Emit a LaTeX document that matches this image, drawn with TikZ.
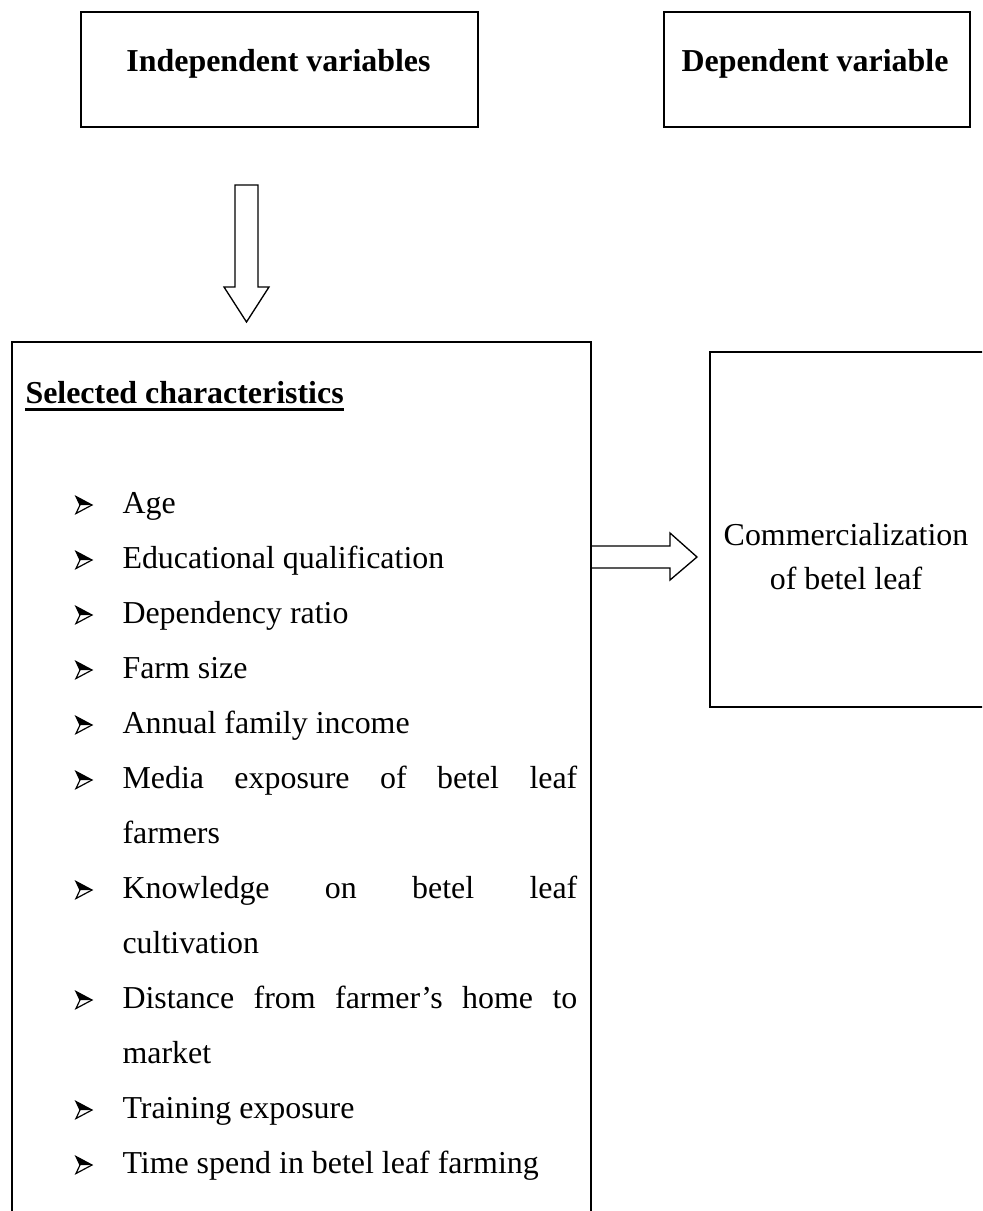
\documentclass[tikz,border=0pt]{standalone}
\usepackage{fontspec}
\setmainfont{Liberation Serif}
\newcommand{\jline}[1]{\makebox[171pt][s]{#1}}
\begin{document}
\begin{tikzpicture}[x=0.376pt,y=-0.376pt,
  box/.style={draw, line width=0.75pt, inner sep=0pt, anchor=north west},
  blockarrow/.style={draw, line width=0.5pt, line join=miter},
  hdr/.style={font=\fontsize{12}{14}\selectfont\bfseries, anchor=base, inner sep=0pt},
  itemtext/.style={font=\fontsize{12}{14}\selectfont, anchor=base west, inner sep=0pt},
  ctext/.style={font=\fontsize{12}{14}\selectfont, anchor=base, inner sep=0pt},
  pics/arrbullet/.style={code={
    \fill (0,-8.5) -- (16,0) -- (4,0) -- cycle;
    \draw[line width=0.45pt, line join=miter] (0,-8.5) -- (16,0) -- (0,8.5) -- (4,0) -- cycle;
  }}]
\useasboundingbox (0,0) rectangle (982,1211);
\clip (0,0) rectangle (982,1211);

% top boxes
\node[box, minimum width=149.3pt, minimum height=43.24pt] (indep) at (80,11) {};
\node[hdr] (indeptext) at (278.5,72) {Independent variables};
\node[box, minimum width=115.1pt, minimum height=43.24pt] (dep) at (663,11) {};
\node[hdr] (deptext) at (815,72) {Dependent variable};

% main box
\node[box, minimum width=217.7pt, minimum height=345.5pt] (main) at (11,341) {};
\node[hdr, anchor=base west] (sel) at (25,403) {Selected characteristics};
\draw[line width=1.1pt] ([yshift=-2.4pt]sel.base west) -- ([yshift=-2.4pt]sel.base east);

% commercialization box
\node[box, minimum width=116.9pt, minimum height=133.5pt] (comm) at (709,351) {};
\node[ctext] (comm1) at (846,545) {Commercialization};
\node[ctext] (comm2) at (846,589) {of betel leaf};

% down block arrow
\draw[blockarrow] (235,185) -- (258,185) -- (258,287) -- (269,287) -- (246.5,322)
  -- (224,287) -- (235,287) -- cycle;
% right block arrow
\draw[blockarrow] (590,546) -- (670,546) -- (670,533) -- (697,557) -- (670,580)
  -- (670,568) -- (590,568);

% bullet list
\foreach \y/\n/\t in {
  513/a/Age,
  568/b/Educational qualification,
  623/c/Dependency ratio,
  678/d/Farm size,
  733/e/Annual family income,
  788/f/\jline{Media exposure of betel leaf},
  898/g/\jline{Knowledge on betel leaf},
  1008/h/\jline{Distance from farmer’s home to},
  1118/i/Training exposure,
  1173/j/Time spend in betel leaf farming}{
  \pic at (76,\y-8) {arrbullet};
  \node[itemtext] (t\n) at (122,\y) {\t};
}
\node[itemtext] (tf2) at (122,843) {farmers};
\node[itemtext] (tg2) at (122,953) {cultivation};
\node[itemtext] (th2) at (122,1063) {market};
\end{tikzpicture}
\end{document}
